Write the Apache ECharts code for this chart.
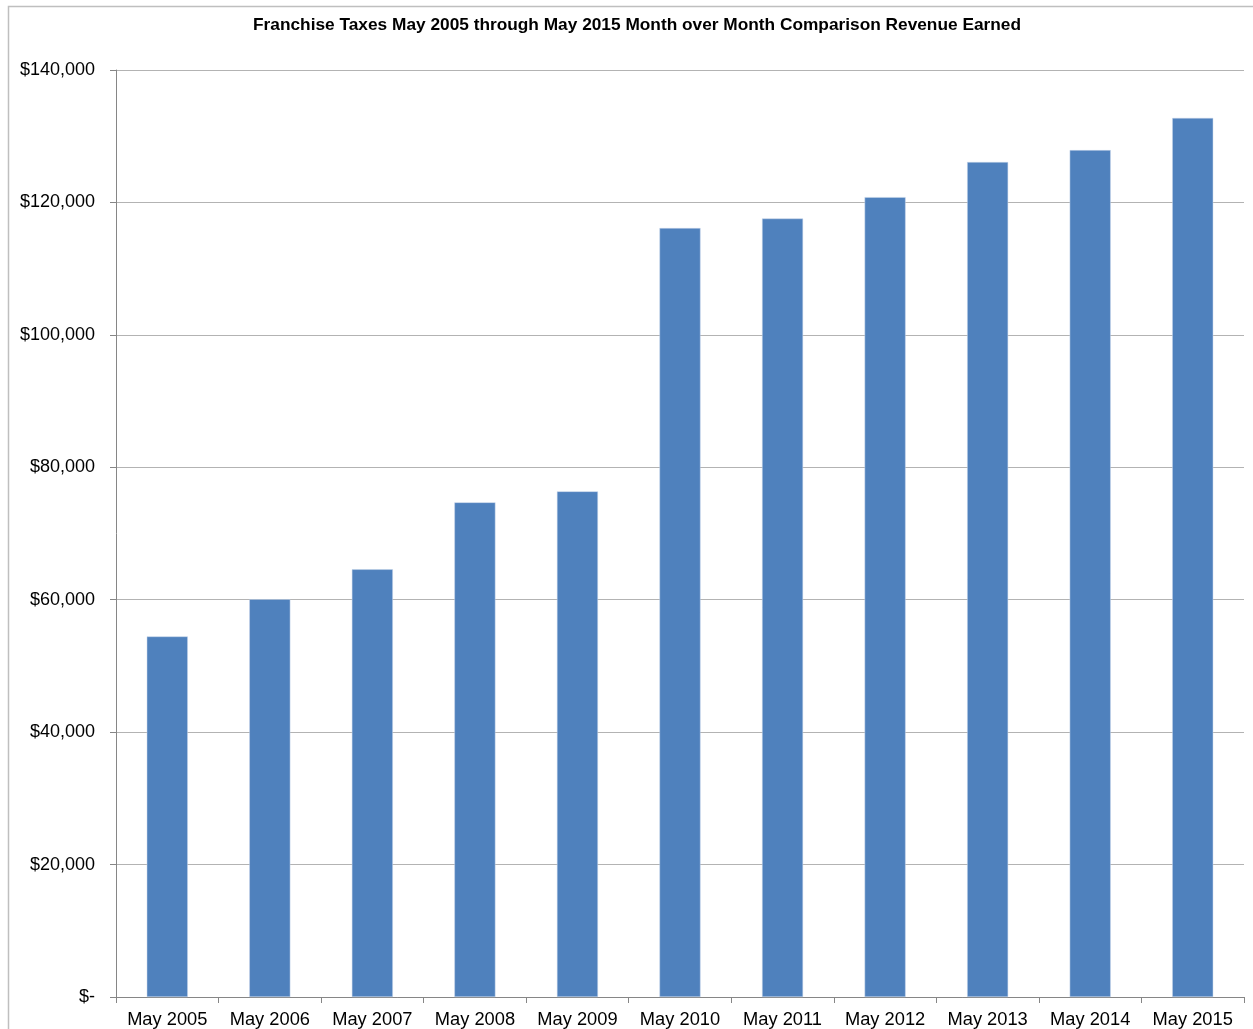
<!DOCTYPE html>
<html><head><meta charset="utf-8">
<script src="https://cdn.jsdelivr.net/npm/echarts@6/dist/echarts.min.js"></script>
<style>html,body{margin:0;padding:0;background:#fff}#c{width:1253px;height:1029px}</style>
</head><body><div id="c"></div>
<script>
const categories = ['May 2005','May 2006','May 2007','May 2008','May 2009','May 2010','May 2011','May 2012','May 2013','May 2014','May 2015'];
const revenue = [54450, 60070, 64590, 74700, 76360, 116130, 117570, 120800, 126100, 127900, 132760];
const yTicks = [0, 20000, 40000, 60000, 80000, 100000, 120000, 140000];

const chart = echarts.init(document.getElementById('c'));
chart.setOption({
  animation: false,
  backgroundColor: '#fff',
  title: {
    text: 'Franchise Taxes May 2005 through May 2015 Month over Month Comparison Revenue Earned',
    left: 632, top: 12, textAlign: 'center',
    textStyle: {fontFamily: 'Liberation Sans', fontSize: 17.3, fontWeight: 'bold', color: '#000'}
  },
  graphic: [{type: 'rect', shape: {x: 8.5, y: 6.5, width: 1260, height: 1040}, style: {fill: 'none', stroke: '#bfbfbf', lineWidth: 1.5}, silent: true}],
  grid: {left: 116, right: 9, top: 70, bottom: 31, containLabel: false},
  xAxis: {
    type: 'category', data: categories,
    axisLine: {lineStyle: {color: '#868686'}},
    axisTick: {show: true, alignWithLabel: false, length: 6, lineStyle: {color: '#868686'}},
    axisLabel: {fontFamily: 'Liberation Sans', fontSize: 18.3, color: '#000', margin: 14, interval: 0}
  },
  yAxis: {
    type: 'value', min: yTicks[0], max: yTicks[yTicks.length-1], interval: 20000,
    axisLine: {show: true, lineStyle: {color: '#868686'}},
    axisTick: {show: true, inside: false, length: 6, lineStyle: {color: '#868686'}},
    splitLine: {lineStyle: {color: '#b3b3b3'}},
    axisLabel: {fontFamily: 'Liberation Sans', fontSize: 18, color: '#000', margin: 21,
      formatter: v => v === 0 ? '$-' : '$' + v.toLocaleString('en-US')}
  },
  series: [{
    type: 'bar', data: revenue, barWidth: '40%',
    itemStyle: {color: '#4f81bd', borderColor: '#c8d6ea', borderWidth: 0.5}
  }]
});
</script></body></html>
